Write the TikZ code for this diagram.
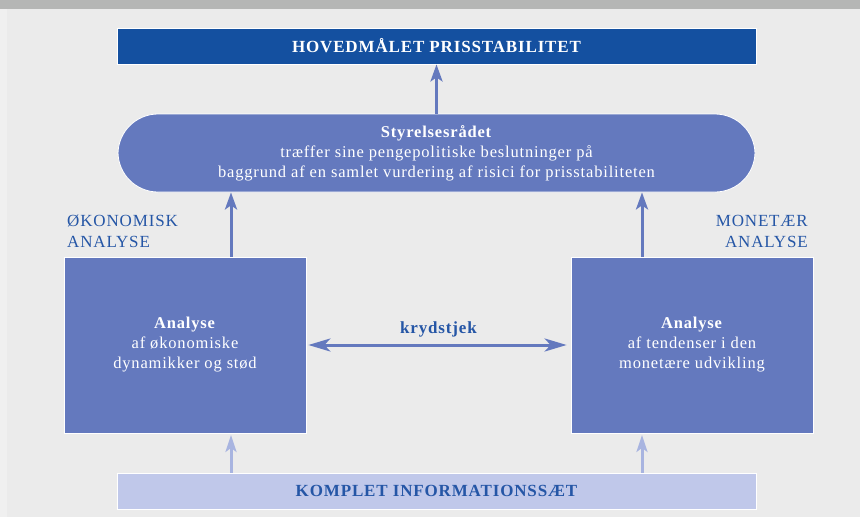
\documentclass[tikz,border=0pt]{standalone}
\usepackage{fontspec}
\setmainfont{Liberation Serif}[LetterSpace=5]
\usetikzlibrary{arrows.meta}
\definecolor{bg}{HTML}{EBEBEB}
\definecolor{bgl}{HTML}{F0F0F0}
\definecolor{band}{HTML}{B5B6B5}
\definecolor{navy}{HTML}{1450A0}
\definecolor{mid}{HTML}{6479BE}
\definecolor{pale}{HTML}{C0C8EA}
\definecolor{palearr}{HTML}{A8B4E0}
\definecolor{lblue}{HTML}{2556A6}
\tikzset{
  goalbox/.style={fill=navy, draw=white, line width=0.8pt, text=white, font=\fontsize{17}{20}\selectfont\bfseries,
    minimum width=639pt, minimum height=36pt, inner sep=0pt},
  boardbox/.style={fill=mid, draw=white, line width=0.8pt, rounded corners=40pt, text=white,
    font=\fontsize{16.5}{20}\selectfont, align=center, minimum width=637pt, minimum height=78pt, inner sep=0pt},
  anabox/.style={fill=mid, draw=white, line width=0.8pt, text=white,
    font=\fontsize{16.5}{20}\selectfont, align=center, minimum width=242pt, minimum height=176pt, inner sep=0pt},
  infobox/.style={fill=pale, draw=white, line width=0.8pt, text=lblue, font=\fontsize{17}{20}\selectfont\bfseries,
    minimum width=639pt, minimum height=36pt, inner sep=0pt},
  sidelbl/.style={text=lblue, font=\fontsize{17}{21}\selectfont, inner sep=0pt},
  arr/.style={draw=mid, line width=3pt, -{Stealth[length=17pt, width=12pt, inset=4pt]}},
  dblarr/.style={draw=mid, line width=3pt, {Stealth[length=22pt, width=13pt, inset=6pt]}-{Stealth[length=22pt, width=13pt, inset=6pt]}},
  lightarr/.style={draw=palearr, line width=3pt, -{Stealth[length=17pt, width=11pt, inset=4pt]}}
}
\begin{document}
\begin{tikzpicture}[x=1pt,y=-1pt]
\useasboundingbox (0,0) rectangle (860,517);
\fill[bg] (0,0) rectangle (860,517);
\fill[bgl] (0,9) rectangle (7,517);
\fill[band] (0,0) rectangle (860,9);

\node[goalbox] (goal) at (436.5,46) {HOVEDMÅLET PRISSTABILITET};
\node[boardbox] (board) at (436.5,153) {\textbf{Styrelsesrådet}\\træffer sine pengepolitiske beslutninger på\\baggrund af en samlet vurdering af risici for prisstabiliteten};
\node[anabox] (econ) at (185,345) {\textbf{Analyse}\\af økonomiske\\dynamikker og stød};
\node[anabox] (monet) at (692,345) {\textbf{Analyse}\\af tendenser i den\\monetære udvikling};
\node[infobox] (info) at (436.5,491) {KOMPLET INFORMATIONSSÆT};

\node[sidelbl, anchor=north west, align=left] (ecolbl) at (67,215) {ØKONOMISK\\ANALYSE};
\node[sidelbl, anchor=north east, align=right] (monlbl) at (808,215) {MONETÆR\\ANALYSE};

\coordinate (la) at (231,0);
\coordinate (ra) at (642,0);

\draw[arr] (board.north) -- (goal.south);
\draw[arr] (econ.north -| la) -- (board.south -| la);
\draw[arr] (monet.north -| ra) -- (board.south -| ra);
\draw[dblarr, shorten <=2pt, shorten >=4pt] (econ.east) -- (monet.west)
  node[midway, above=6pt, text=lblue, font=\fontsize{17}{20}\selectfont\bfseries, inner sep=0pt] (kt) {krydstjek};
\draw[lightarr, shorten >=1.5pt] (info.north -| la) -- (econ.south -| la);
\draw[lightarr, shorten >=1.5pt] (info.north -| ra) -- (monet.south -| ra);
\end{tikzpicture}
\end{document}
